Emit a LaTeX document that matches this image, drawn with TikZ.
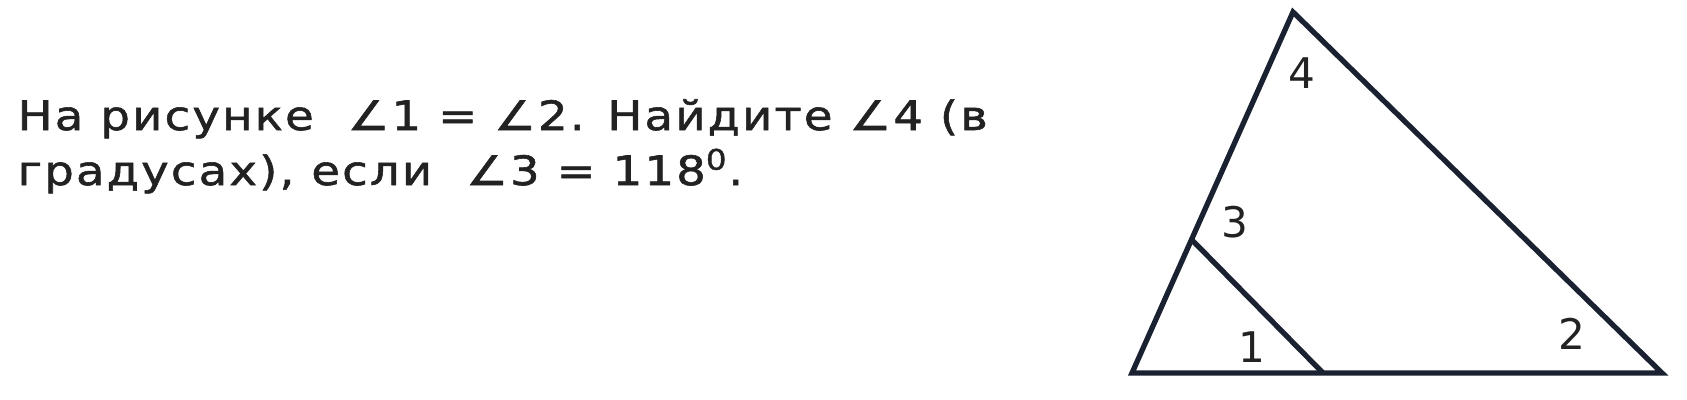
\documentclass[tikz,border=0pt]{standalone}
\usepackage{fontspec}
\setmainfont{DejaVu Sans}
\newfontfamily\probfont[FakeStretch=1.15,LetterSpace=5.5,FakeBold=1.4]{DejaVu Sans}
\usetikzlibrary{positioning}
\definecolor{darkline}{RGB}{26,33,48}
\definecolor{textgray}{RGB}{34,34,34}

\begin{document}
\begin{tikzpicture}[x=0.01cm,y=-0.01cm,
	side/.style={line width=1.5pt,color=darkline,line join=miter},
	num/.style={inner sep=0pt,text=textgray,font=\fontsize{12}{14}\selectfont},
	txt/.style={anchor=base west,inner sep=0pt,text=textgray,font=\probfont\fontsize{11.5}{14}\selectfont}]
%		\draw[lightgray] (0,0) grid[step=100] (1687,400);
		\useasboundingbox (0,0) rectangle (1687,400);
		% the problem text
		\node[txt] (line1) at (17,130) {На рисунке \ ∠1 = ∠2. Найдите ∠4 (в};
		\node[txt] (line2) at (17,185) {градусах), если \ ∠3 = 118\textsuperscript{0}.};
		% the triangle
		\coordinate (A) at (1132,373);
		\coordinate (B) at (1293,12);
		\coordinate (C) at (1662,373);
		\coordinate (D) at (1192,240);
		\coordinate (E) at (1323,373);
		\draw[side] (A) -- (B) -- (C) -- cycle;
		\draw[side] (D) -- (E);
		\node[num] (one) at (1252,347) {1};
		\node[num] (two) at (1572,334) {2};
		\node[num] (three) at (1235,222) {3};
		\node[num] (four) at (1302,73) {4};
	\end{tikzpicture}
\end{document}
